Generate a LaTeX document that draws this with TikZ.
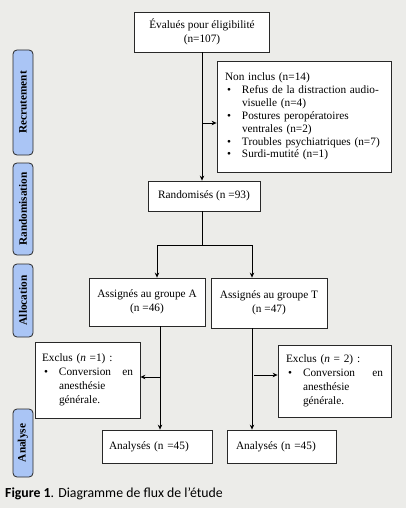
\documentclass[tikz,border=0pt]{standalone}
\usepackage{fontspec}
\setmainfont{Liberation Serif}
\newfontfamily\capfont{Carlito}
\usetikzlibrary{arrows.meta}
\definecolor{bg}{RGB}{236,236,233}
\definecolor{sideblue}{RGB}{170,197,245}
\definecolor{edge}{RGB}{40,40,40}
\begin{document}
\begin{tikzpicture}[x=1pt,y=-1pt,
  box/.style={draw=edge, line width=0.8pt, fill=white, inner sep=0pt,
    font=\fontsize{11.3}{14}\selectfont, align=center},
  lbox/.style={box, align=left},
  side/.style={draw=edge, line width=0.8pt, fill=sideblue, rounded corners=4pt,
    rotate=90, minimum height=20pt, inner sep=0pt,
    font=\fontsize{11.3}{13}\selectfont\bfseries},
  conn/.style={draw=black, line width=1pt},
  arr/.style={conn, -{Stealth[length=5pt,width=4.5pt]}}
]
\useasboundingbox (0,0) rectangle (406,508);
\fill[bg] (0,0) rectangle (406,508);

% side labels
\node[side, minimum width=105pt] (s1) at (23,102.5) {Recrutement};
\node[side, minimum width=92pt] (s2) at (23,209) {Randomisation};
\node[side, minimum width=73pt] (s3) at (23,300.5) {Allocation};
\node[side, minimum width=68pt] (s4) at (23,443) {Analyse};

% boxes
\node[box, minimum width=135pt, minimum height=40pt] (eval) at (202,32)
  {Évalués pour éligibilité\\(n=107)};
\node[lbox, minimum width=174pt, minimum height=111pt, text width=158pt, inner xsep=8pt,
  font=\fontsize{11.3}{12.9}\selectfont] (noninc) at (304,116.5)
  {Non inclus (n=14)\\
   \makebox[17pt][l]{\hspace{2pt}•}Refus de la distraction audio-\\
   \hspace*{17pt}visuelle (n=4)\\
   \makebox[17pt][l]{\hspace{2pt}•}Postures peropératoires\\
   \hspace*{17pt}ventrales (n=2)\\
   \makebox[17pt][l]{\hspace{2pt}•}Troubles psychiatriques (n=7)\\
   \makebox[17pt][l]{\hspace{2pt}•}Surdi-mutité (n=1)};
\node[box, minimum width=112pt, minimum height=30pt] (rand) at (204,196)
  {Randomisés (n =93)};
\node[box, minimum width=116pt, minimum height=48pt] (grpA) at (147,302)
  {Assignés au groupe A\\(n =46)};
\node[box, minimum width=116pt, minimum height=50pt] (grpT) at (269,303)
  {Assignés au groupe T\\(n =47)};
\node[lbox, minimum width=105pt, minimum height=76pt, text width=91pt, inner xsep=7pt] (exA) at (87.5,380)
  {Exclus (\textit{n} =1) :\\
   \makebox[17pt][l]{\hspace{2pt}•}\makebox[74pt][s]{Conversion\hfill en}\\
   \hspace*{17pt}anesthésie\\
   \hspace*{17pt}générale.};
\node[lbox, minimum width=113pt, minimum height=72pt, text width=97pt, inner xsep=8pt] (exT) at (334.5,381)
  {Exclus (\textit{n} = 2) :\\
   \makebox[17pt][l]{\hspace{2pt}•}\makebox[80pt][s]{Conversion\hfill en}\\
   \hspace*{17pt}anesthésie\\
   \hspace*{17pt}générale.};
\node[lbox, minimum width=110pt, minimum height=33pt, text width=96pt, inner xsep=7pt] (anA) at (157,446.5)
  {Analysés (n =45)};
\node[lbox, minimum width=109pt, minimum height=33pt, text width=91pt, inner xsep=9pt] (anT) at (281.5,446.5)
  {Analysés (n =45)};

% connectors
\coordinate (b1) at (202,123);
\draw[arr] (eval.south) -- (eval.south |- rand.north);
\draw[arr] (b1) -- (b1 -| noninc.west);
\coordinate (split) at (202,245);
\coordinate (sa) at (157,245);
\coordinate (st) at (252,245);
\draw[conn] (rand.south -| split) -- (split);
\draw[conn] (sa) -- (st);
\draw[arr] (sa) -- (sa |- grpA.north);
\draw[arr] (st) -- (st |- grpT.north);
\coordinate (da) at (160,377);
\draw[arr] (grpA.south -| da) -- (anA.north -| da);
\draw[arr] (da) -- (da -| exA.east);
\coordinate (et) at (254,375);
\draw[arr] (grpT.south -| st) -- (anT.north -| st);
\draw[arr] (et) -- (et -| exT.west);

% caption
\node[anchor=west, inner sep=0pt, font=\capfont\fontsize{13.8}{16}\selectfont] (cap) at (5,494)
  {\textbf{Figure 1}. Diagramme de flux de l’étude};
\end{tikzpicture}
\end{document}
